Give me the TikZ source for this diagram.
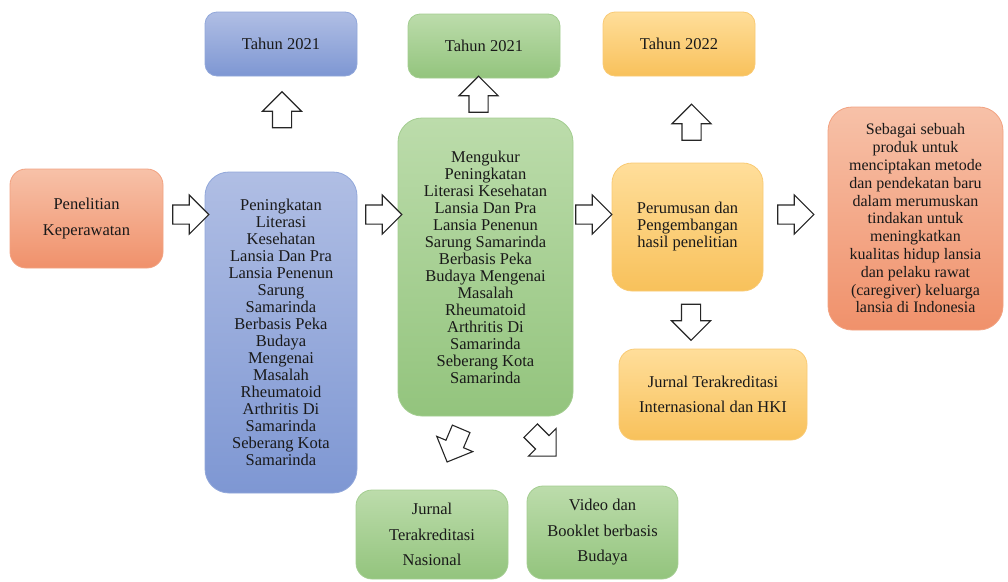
\documentclass[tikz,border=0pt]{standalone}
\usepackage{fontspec}
\setmainfont{Liberation Serif}
\usetikzlibrary{shapes.arrows}
\definecolor{orgA}{HTML}{F7C1A8}
\definecolor{orgB}{HTML}{F0916B}
\definecolor{bluA}{HTML}{B0BEE4}
\definecolor{bluB}{HTML}{7E97D3}
\definecolor{grnA}{HTML}{BCDCAB}
\definecolor{grnB}{HTML}{93C47D}
\definecolor{ylwA}{HTML}{FFDE9A}
\definecolor{ylwB}{HTML}{F8C15B}
\tikzset{
box/.style={rectangle,rounded corners=#1,align=center,inner sep=0pt,line width=0.8pt,text=black!90,font=\fontsize{16.5}{17}\selectfont},
orangebox/.style={top color=orgA,bottom color=orgB,draw=orgB!85},
bluebox/.style={top color=bluA,bottom color=bluB,draw=bluB!85},
greenbox/.style={top color=grnA,bottom color=grnB,draw=grnB!85},
yellowbox/.style={top color=ylwA,bottom color=ylwB,draw=ylwB!85},
wide/.style={font=\fontsize{16.5}{25.5}\selectfont},
blockarrow/.style={single arrow,draw=black!85,fill=white,line width=1.1pt,minimum height=36,minimum width=0pt,inner xsep=0pt,inner ysep=9pt,single arrow head extend=10pt}
}
\begin{document}
\begin{tikzpicture}[x=1pt,y=-1pt]
\useasboundingbox(0,0)rectangle(1008,581);
\node[box=16,orangebox,wide,minimum width=153,minimum height=99](penelitian)at(86.5,218.5){Penelitian\\Keperawatan};
\node[box=24,bluebox,minimum width=152,minimum height=321](peningkatan)at(281,332.5){Peningkatan\\Literasi\\Kesehatan\\Lansia Dan Pra\\Lansia Penenun\\Sarung\\Samarinda\\Berbasis Peka\\Budaya\\Mengenai\\Masalah\\Rheumatoid\\Arthritis Di\\Samarinda\\Seberang Kota\\Samarinda};
\node[box=12,bluebox,minimum width=152,minimum height=64](tahunA)at(281,44){Tahun 2021};
\node[box=24,greenbox,minimum width=175,minimum height=298](mengukur)at(485.5,267){Mengukur\\Peningkatan\\Literasi Kesehatan\\Lansia Dan Pra\\Lansia Penenun\\Sarung Samarinda\\Berbasis Peka\\Budaya Mengenai\\Masalah\\Rheumatoid\\Arthritis Di\\Samarinda\\Seberang Kota\\Samarinda};
\node[box=12,greenbox,minimum width=152,minimum height=64](tahunB)at(484,46){Tahun 2021};
\node[box=12,yellowbox,minimum width=152,minimum height=64](tahunC)at(679,44){Tahun 2022};
\node[box=20,yellowbox,minimum width=151,minimum height=128](perumusan)at(687.5,227){Perumusan dan\\Pengembangan\\hasil penelitian};
\node[box=16,yellowbox,wide,minimum width=188,minimum height=91](jurnalint)at(713,394.5){Jurnal Terakreditasi\\Internasional dan HKI};
\node[box=24,orangebox,font=\fontsize{16}{17.8}\selectfont,minimum width=175,minimum height=223](sebagai)at(915.5,218.5){Sebagai sebuah\\produk untuk\\menciptakan metode\\dan pendekatan baru\\dalam merumuskan\\tindakan untuk\\meningkatkan\\kualitas hidup lansia\\dan pelaku rawat\\(caregiver) keluarga\\lansia di Indonesia};
\node[box=16,greenbox,wide,minimum width=152,minimum height=89](jurnalnas)at(432,534.5){Jurnal\\Terakreditasi\\Nasional};
\node[box=16,greenbox,wide,minimum width=151,minimum height=93](video)at(602.5,532.5){Video dan\\Booklet berbasis\\Budaya};
\node[blockarrow](ar1)at(186,214.5){};
\node[blockarrow](ar2)at(379,214.5){};
\node[blockarrow,rotate=90](ar3)at(282,114.5){};
\node[blockarrow,rotate=90](ar4)at(478.5,99){};
\node[blockarrow](ar5)at(589,214.5){};
\node[blockarrow,rotate=90](ar6)at(691.5,127){};
\node[blockarrow](ar7)at(791,214.5){};
\node[blockarrow,rotate=-90](ar8)at(691,317.5){};
\node[blockarrow,rotate=-113](ar9)at(456,441){};
\node[blockarrow,rotate=-45](ar10)at(540,440){};
\end{tikzpicture}
\end{document}
